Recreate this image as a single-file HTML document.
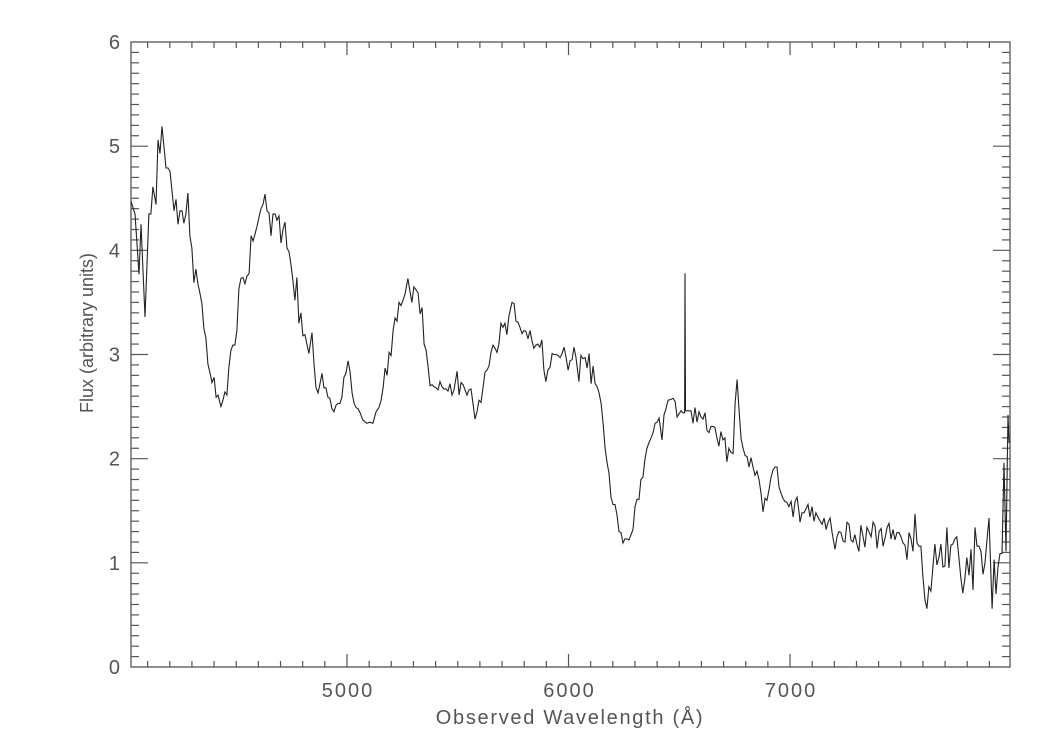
<!DOCTYPE html>
<html><head><meta charset="utf-8"><style>
body{margin:0;background:#fff;}
svg{display:block;}
text{font-family:"Liberation Sans",sans-serif;fill:#555;font-size:18px;}
.tick{font-size:20px;letter-spacing:2px;}
</style></head><body>
<svg id="chart" width="1050" height="750" viewBox="0 0 1050 750" xmlns="http://www.w3.org/2000/svg">
<g id="axes"></g>
<path id="line" fill="none" stroke="#222" stroke-width="1.1"/>
<text x="570" y="724" text-anchor="middle" style="font-size:20px;letter-spacing:1.7px">Observed Wavelength (Å)</text>
<text x="0" y="0" text-anchor="middle" transform="translate(93,333) rotate(-90)">Flux (arbitrary units)</text>
</svg>
<script>
const wavelengths=[4025,4043,4061,4070,4088,4106,4115,4124,4138,4147,4156,4165,4183,4192,4201,4219,4228,4237,4246,4255,4264,4273,4282,4291,4300,4309,4318,4327,4336,4345,4354,4363,4372,4386,4390,4400,4409,4418,4431,4440,4449,4458,4467,4476,4485,4494,4503,4512,4521,4530,4539,4548,4558,4567,4576,4585,4594,4603,4612,4621,4630,4639,4648,4657,4666,4675,4684,4693,4702,4711,4720,4729,4738,4747,4756,4765,4774,4783,4792,4801,4810,4819,4828,4842,4851,4860,4869,4878,4887,4896,4905,4914,4923,4932,4941,4950,4959,4968,4977,4986,4995,5005,5014,5023,5032,5041,5050,
5059,5072,5090,5104,5117,5131,5144,5154,5163,5172,5181,5190,5199,5208,5217,5226,5235,5244,5253,5262,5275,5284,5293,5302,5312,5321,5330,5339,5348,5357,5366,5375,5384,5393,5402,5411,5420,5429,5438,5447,5456,5465,5474,5483,5497,5506,5515,5524,5533,5542,5551,5560,5569,5578,5587,5596,5605,5614,5623,5632,5641,5650,5659,5668,5677,5686,5695,5704,5713,5722,5731,5745,5754,5763,5772,5781,5790,5799,5808,5817,5826,5835,5844,5853,5862,5871,5880,5889,5898,5907,5917,5926,5935,5944,5953,5962,5971,5980,5989,5998,6007,6016,6025,6034,6047,6056,6065,6075,6084,6093,6102,6111,6120,6129,6138,6147,6156,6165,6174,6183,
6192,6201,6210,6219,6228,6237,6246,6255,6264,6273,6282,6291,6300,6309,6318,6327,6336,6345,6354,6363,6373,6382,6391,6400,6409,6422,6431,6440,6449,6463,6472,6481,6490,6499,6508,6517,6524,6526,6528,6535,6544,6553,6562,6571,6580,6589,6598,6607,6616,6625,6634,6643,6652,6661,6670,6679,6688,6697,6706,6715,6724,6733,6743,6752,6761,6770,6779,6788,6797,6806,6815,6824,6833,6842,6851,6860,6869,6878,6887,6896,6905,6914,6923,6932,6941,6950,6959,6968,6977,6986,6995,7005,7014,7023,7032,7041,
7045,7054,7063,7072,7081,7090,7099,7108,7117,7126,7136,7145,7154,7163,7172,7181,7190,7203,7212,7221,7230,7239,7248,7257,7266,7275,7284,7293,7302,7311,7320,7329,7338,7347,7356,7366,7375,7384,7393,7402,7411,7420,7429,7438,7447,7456,7465,7474,7483,7492,7501,7510,7519,7528,7537,7546,7555,7564,7573,7582,7591,7600,7609,7618,7627,7636,7645,7654,7663,7672,7681,7690,7699,7708,7717,7726,7735,7744,7753,7762,7771,7780,7789,7798,7808,7817,7826,7835,7844,7853,7862,7871,7880,7889,7898,7912,7921,7930,7939,7948,7957,7966,7975,7984,7989];
const flux=[4.47,4.35,3.77,4.25,3.36,4.35,4.35,4.61,4.44,5.06,4.93,5.19,4.79,4.79,4.76,4.38,4.49,4.25,4.38,4.38,4.26,4.35,4.55,4.14,4.02,3.69,3.82,3.68,3.59,3.49,3.25,3.16,2.91,2.78,2.73,2.78,2.59,2.61,2.50,2.56,2.64,2.61,2.88,3.04,3.09,3.09,3.23,3.63,3.73,3.74,3.68,3.75,3.78,4.14,4.09,4.16,4.23,4.32,4.40,4.44,4.54,4.38,4.36,4.14,4.35,4.35,4.29,4.33,4.07,4.20,4.27,4.02,3.99,3.87,3.71,3.52,3.74,3.30,3.40,3.18,3.19,3.10,3.01,3.21,2.91,2.68,2.63,2.72,2.82,2.68,2.68,2.59,2.58,2.48,2.45,2.51,2.53,2.53,2.59,2.78,2.82,2.94,2.83,2.63,2.53,2.49,2.48,
2.44,2.37,2.34,2.35,2.34,2.45,2.49,2.56,2.68,2.87,2.80,3.02,2.99,3.23,3.35,3.32,3.50,3.47,3.52,3.58,3.73,3.61,3.50,3.65,3.62,3.59,3.39,3.45,3.10,3.04,2.88,2.70,2.71,2.69,2.68,2.66,2.74,2.69,2.67,2.67,2.65,2.72,2.61,2.66,2.84,2.61,2.73,2.71,2.66,2.61,2.66,2.67,2.53,2.38,2.45,2.56,2.54,2.68,2.83,2.85,2.89,3.02,3.09,3.06,3.02,3.10,3.30,3.26,3.30,3.19,3.37,3.50,3.49,3.32,3.31,3.26,3.20,3.23,3.22,3.15,3.23,3.13,3.06,3.09,3.10,3.07,3.14,2.85,2.74,2.85,2.88,3.01,3.00,3.00,2.99,2.97,3.01,3.07,2.97,2.85,2.94,2.95,3.07,2.97,2.74,2.99,2.96,2.97,2.87,3.01,2.72,2.89,2.72,2.69,2.63,2.53,2.34,2.10,1.96,1.86,
1.63,1.56,1.56,1.46,1.30,1.29,1.19,1.23,1.23,1.22,1.27,1.32,1.54,1.61,1.61,1.80,1.82,1.99,2.10,2.15,2.20,2.25,2.34,2.35,2.39,2.18,2.42,2.48,2.56,2.57,2.58,2.55,2.40,2.43,2.46,2.44,2.44,3.78,2.46,2.46,2.46,2.46,2.34,2.49,2.35,2.45,2.40,2.38,2.44,2.27,2.25,2.31,2.31,2.30,2.20,2.12,2.26,2.18,2.20,1.97,2.10,2.06,2.05,2.53,2.76,2.46,2.19,2.10,2.03,2.02,1.92,2.01,1.92,1.84,1.88,1.80,1.67,1.49,1.62,1.60,1.70,1.82,1.89,1.92,1.92,1.73,1.67,1.62,1.59,1.58,1.54,1.59,1.44,1.59,1.63,1.48,
1.39,1.48,1.48,1.52,1.56,1.44,1.54,1.40,1.48,1.44,1.40,1.37,1.43,1.32,1.39,1.43,1.29,1.13,1.25,1.30,1.29,1.21,1.20,1.39,1.37,1.22,1.20,1.27,1.18,1.11,1.36,1.26,1.15,1.34,1.30,1.25,1.39,1.35,1.14,1.30,1.33,1.16,1.24,1.34,1.38,1.23,1.32,1.22,1.29,1.29,1.25,1.19,1.17,1.03,1.29,1.23,1.11,1.47,1.19,1.16,1.16,0.87,0.65,0.56,0.77,0.73,0.96,1.18,0.98,1.05,1.18,0.96,0.97,1.34,0.95,1.17,1.18,1.23,1.25,1.06,0.86,0.71,0.84,1.05,0.88,1.13,0.74,1.34,1.16,1.16,1.11,0.89,1.00,1.22,1.43,0.56,1.03,0.70,0.96,1.09,1.09,1.96,1.11,2.42,2.15];
const xTickLabels=[5000,6000,7000];
const yTickLabels=[0,1,2,3,4,5,6];
const xMin=4025,xMax=7993,yMin=0,yMax=6;
const L=131,R=1010,T=42,B=667;
const sx=v=>L+(v-xMin)/(xMax-xMin)*(R-L);
const sy=v=>B-(v-yMin)/(yMax-yMin)*(B-T);
const NS='http://www.w3.org/2000/svg';
const axes=document.getElementById('axes');
function ln(x1,y1,x2,y2,name){const e=document.createElementNS(NS,'line');e.setAttribute('x1',x1);e.setAttribute('y1',y1);e.setAttribute('x2',x2);e.setAttribute('y2',y2);e.setAttribute('stroke','#555');e.setAttribute('stroke-width','1.2');


axes.appendChild(e);}
const fr=document.createElementNS(NS,'rect');fr.setAttribute('x',L);fr.setAttribute('y',T);fr.setAttribute('width',R-L);fr.setAttribute('height',B-T);fr.setAttribute('fill','none');fr.setAttribute('stroke','#555');fr.setAttribute('stroke-width','1.3');


axes.appendChild(fr);
for(let w=4100;w<xMax;w+=100){const x=sx(w);const major=w%1000===0;const len=major?13:6;ln(x,B,x,B-len,'x-tick');ln(x,T,x,T+len,'x-tick-top');}
for(let k=1;k<60;k++){const v=k/10;const y=sy(v);const major=k%10===0;const len=major?17:8;ln(L,y,L+len,y,'y-tick');ln(R,y,R-len,y,'y-tick-right');}
xTickLabels.forEach(v=>{const t=document.createElementNS(NS,'text');t.setAttribute('x',sx(v)+1);t.setAttribute('y',B+30);t.setAttribute('text-anchor','middle');t.setAttribute('class','tick');t.textContent=v;


axes.appendChild(t);});
yTickLabels.forEach(v=>{const t=document.createElementNS(NS,'text');t.setAttribute('x',L-9);t.setAttribute('y',sy(v)+7);t.setAttribute('text-anchor','end');t.setAttribute('class','tick');t.textContent=v;


axes.appendChild(t);});
document.getElementById('line').setAttribute('d',wavelengths.map((w,i)=>(i?'L':'M')+sx(w).toFixed(1)+','+sy(flux[i]).toFixed(1)).join(''));
</script>
</body></html>
